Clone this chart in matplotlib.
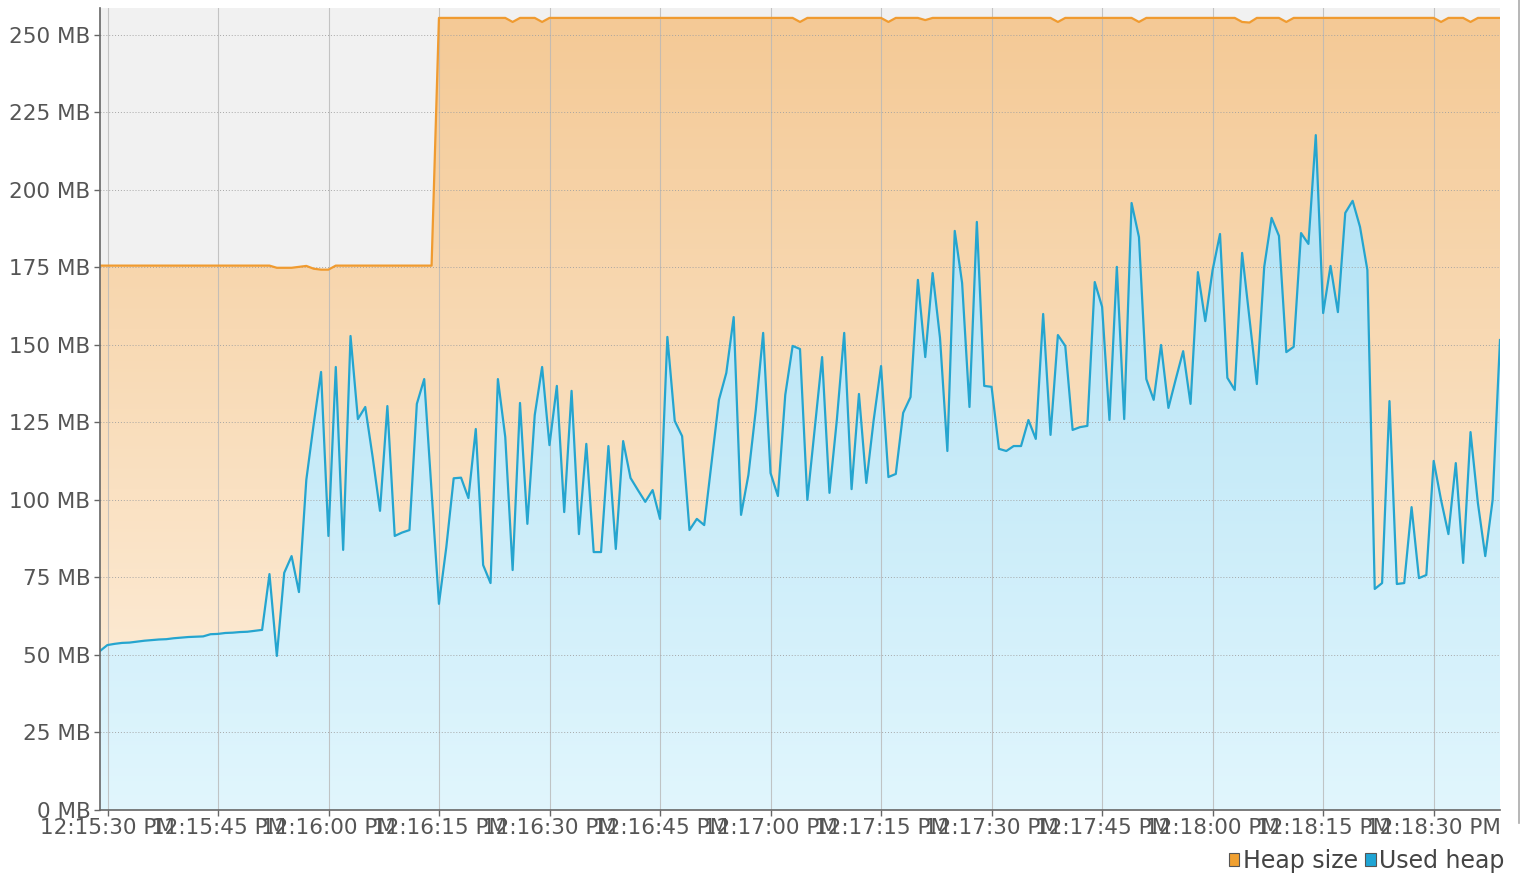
import numpy as np
import pandas as pd
import matplotlib
matplotlib.use("Agg")
import matplotlib.pyplot as plt
import matplotlib.dates as mdates
from matplotlib.patches import Patch
from matplotlib.ticker import FixedLocator, FuncFormatter

# one sample per second, first one just before 12:15:30 PM
start_time = "2000-01-01 12:15:28.97"

used_heap = [
    51.3, 53.2, 53.6, 53.9, 54.0, 54.3, 54.6, 54.8, 55.0, 55.1,
    55.4, 55.6, 55.8, 55.9, 56.0, 56.7, 56.8, 57.1, 57.2, 57.4,
    57.5, 57.8, 58.1, 76.1, 49.7, 76.5, 81.9, 70.3, 106.5, 124.5,
    141.3, 88.4, 142.9, 83.9, 152.9, 126.1, 130.0, 113.9, 96.5, 130.3,
    88.4, 89.5, 90.3, 131.0, 139.0, 102.6, 66.5, 84.8, 107.0, 107.2,
    100.6, 122.9, 79.0, 73.2, 139.0, 120.3, 77.4, 131.3, 92.3, 127.4,
    142.9, 117.7, 136.8, 96.1, 135.2, 89.0, 118.1, 83.2, 83.2, 117.4,
    84.2, 119.0, 107.1, 103.2, 99.4, 103.2, 93.9, 152.6, 125.5, 120.6,
    90.3, 93.9, 91.9, 112.0, 132.3, 141.0, 159.0, 95.2, 108.1, 129.0,
    153.9, 108.7, 101.3, 133.9, 149.7, 148.7, 100.0, 123.2, 146.1, 102.3,
    125.8, 153.9, 103.5, 134.2, 105.5, 125.8, 143.2, 107.4, 108.4, 128.1,
    133.2, 171.0, 146.1, 173.2, 152.3, 115.8, 186.8, 170.0, 130.0, 189.7,
    136.8, 136.5, 116.5, 115.8, 117.4, 117.4, 125.8, 119.7, 160.0, 121.0,
    153.2, 149.7, 122.6, 123.5, 123.9, 170.3, 162.3, 125.8, 175.2, 126.1,
    195.8, 184.8, 139.0, 132.3, 150.0, 129.7, 139.0, 148.0, 131.0, 173.5,
    157.7, 174.2, 185.8, 139.4, 135.5, 179.7, 158.7, 137.4, 175.2, 191.0,
    185.2, 147.7, 149.4, 186.1, 182.6, 217.7, 160.3, 175.5, 160.6, 192.6,
    196.5, 188.1, 174.2, 71.3, 73.2, 131.9, 72.9, 73.2, 97.7, 74.8,
    75.8, 112.6, 100.0, 89.0, 111.9, 79.7, 121.9, 99.0, 81.9, 100.0,
    151.6,
]

heap_size = [175.6] * 191
for i in (24, 25, 26):
    heap_size[i] = 174.9
heap_size[27] = 175.2
heap_size[28] = 175.5
heap_size[29] = 174.6
heap_size[30] = 174.3
heap_size[31] = 174.3
for i in range(46, 191):
    heap_size[i] = 255.5
for i in (56, 60, 95, 107, 112, 130, 141, 155, 156, 161, 182, 186):
    heap_size[i] = 254.2
heap_size[112] = 254.8
heap_size[156] = 254.0

y_ticks = [0, 25, 50, 75, 100, 125, 150, 175, 200, 225, 250]
y_max = 258.7

times = pd.date_range(start_time, periods=len(used_heap), freq="1s")
t = mdates.date2num(times.to_pydatetime())
used = np.array(used_heap)
heap = np.array(heap_size)

fig = plt.figure(figsize=(15.2, 8.76), dpi=100)
ax = fig.add_axes([100 / 1520, 66 / 876, 1400 / 1520, 802 / 876])
ax.set_facecolor("#f1f1f1")
ax.set_xlim(t[0], t[-1])
ax.set_ylim(0, y_max)


def gradient(top, bottom, n=256):
    top = np.array(matplotlib.colors.to_rgb(top))
    bottom = np.array(matplotlib.colors.to_rgb(bottom))
    f = np.linspace(0, 1, n)[:, None]
    return (bottom + (top - bottom) * f)[:, None, :]


ext = [t[0], t[-1], 0, y_max]

heap_poly = ax.fill_between(t, 0, heap, color="none", lw=0)
img = ax.imshow(gradient("#f4c995", "#fef1e0"), extent=ext, origin="lower",
                aspect="auto", zorder=1, interpolation="bilinear")
img.set_clip_path(heap_poly.get_paths()[0], transform=ax.transData)

used_poly = ax.fill_between(t, 0, used, color="none", lw=0)
img2 = ax.imshow(gradient("#a6ddf3", "#e1f6fd"), extent=ext, origin="lower",
                 aspect="auto", zorder=1.1, interpolation="bilinear")
img2.set_clip_path(used_poly.get_paths()[0], transform=ax.transData)

ax.set_xlim(t[0], t[-1])
ax.set_ylim(0, y_max)

ax.plot(t, heap, color="#f09b30", lw=1.6, zorder=4)
ax.plot(t, used, color="#25a5cf", lw=1.6, zorder=4)

ax.xaxis.set_major_locator(mdates.SecondLocator(bysecond=[0, 15, 30, 45]))
ax.xaxis.set_major_formatter(mdates.DateFormatter("%I:%M:%S %p"))
ax.yaxis.set_major_locator(FixedLocator(y_ticks))
ax.yaxis.set_major_formatter(FuncFormatter(lambda v, p: f"{int(v)} MB"))

ax.grid(axis="x", color="#b8b8b8", lw=0.8, alpha=0.8, zorder=2)
ax.grid(axis="y", color="#a0a0a0", lw=0.7, ls=(0, (1, 2)), alpha=0.9, zorder=2)
ax.set_axisbelow(False)
for ln in ax.get_xgridlines() + ax.get_ygridlines():
    ln.set_zorder(2)

for s in ("top", "right"):
    ax.spines[s].set_visible(False)
for s in ("left", "bottom"):
    ax.spines[s].set_color("#666666")
    ax.spines[s].set_linewidth(1.2)
    ax.spines[s].set_zorder(5)

ax.tick_params(axis="both", colors="#666666", labelcolor="#555555",
               labelsize=15.5, length=4, width=1)
ax.tick_params(axis="x", pad=2)
ax.tick_params(axis="y", pad=3)

# thin grey frame line at the right edge of the picture
fig.add_artist(plt.Line2D([1518.5 / 1520] * 2, [0.06, 1], color="#aaaaaa", lw=1.2))

handles = [Patch(facecolor="#f0a030", edgecolor="#555555", lw=0.8, label="Heap size"),
           Patch(facecolor="#1fa5d5", edgecolor="#555555", lw=0.8, label="Used heap")]
fig.legend(handles=handles, loc="lower right", bbox_to_anchor=(1526 / 1520, -0.021),
           ncol=2, frameon=False, fontsize=17, handlelength=0.45, handleheight=0.45,
           handletextpad=0.15, columnspacing=0.3, labelcolor="#444444")

fig.savefig("out.png", dpi=100)
